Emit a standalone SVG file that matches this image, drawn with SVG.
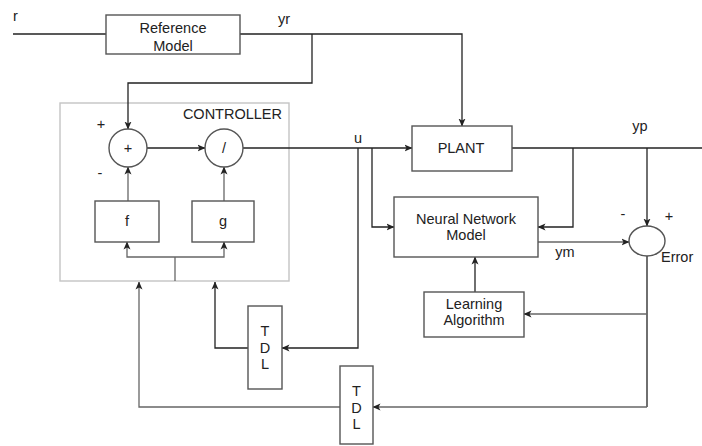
<svg xmlns="http://www.w3.org/2000/svg" width="702" height="446" viewBox="0 0 702 446">
<defs>
<marker id="arr" viewBox="0 0 8 8" refX="7.5" refY="4" markerWidth="8" markerHeight="8" markerUnits="userSpaceOnUse" orient="auto">
<path d="M0,0.5 L8,4 L0,7.5 L2,4 z" fill="#222"/>
</marker>
<style>
text{font-family:"Liberation Sans",Arial,sans-serif;font-size:14.5px;fill:#222}
.box{fill:#fff;stroke:#555;stroke-width:1.4}
.ctl{fill:none;stroke:#c4c4c4;stroke-width:1.4}
.c{text-anchor:middle}
.ln{fill:none;stroke:#222;stroke-width:1.3}
.gl{fill:none;stroke:#666;stroke-width:1.3}
.a{marker-end:url(#arr)}
</style>
</defs>
<rect width="702" height="446" fill="#fff"/>

<g id="controller">
<rect class="ctl" x="60" y="103" width="229" height="178"/>
<text x="282" y="119" text-anchor="end">CONTROLLER</text>
</g>

<g id="connectors">
<path class="ln" d="M13,34 H106"/>
<path class="ln a" d="M240,34 H462 V126"/>
<path class="ln a" d="M312,34 V83 H128 V129"/>
<path class="ln a" d="M147,148 H205"/>
<path class="ln a" d="M243,148 H412"/>
<path class="gl a" d="M128,201 V167"/>
<path class="gl a" d="M224,201 V167"/>
<path class="gl" d="M175,281 V257"/>
<path class="gl a" d="M175,257 H127 V242"/>
<path class="gl a" d="M175,257 H224 V242"/>
<path class="ln a" d="M358,148 V348 H282"/>
<path class="ln a" d="M372,148 V227 H394"/>
<path class="ln a" d="M248,348 H215 V282"/>
<path class="gl a" d="M340,407 H139 V282"/>
<path class="ln" d="M512,148 H702"/>
<path class="ln a" d="M573,148 V227 H538"/>
<path class="ln a" d="M647,148 V226"/>
<path class="gl a" d="M538,242 H629"/>
<path class="ln a" d="M475,292 V257"/>
<path class="ln" d="M647,256 V407"/>
<path class="gl a" d="M647,407 H373"/>
<path class="gl a" d="M647,314 H524"/>
</g>

<g id="reference-model">
<rect class="box" x="106" y="15" width="134" height="39"/>
<text class="c" x="173" y="33">Reference</text>
<text class="c" x="173" y="51">Model</text>
</g>

<g id="sum">
<circle class="box" cx="128" cy="148" r="19"/>
<text class="c" x="128" y="153">+</text>
</g>

<g id="div">
<circle class="box" cx="224" cy="148" r="19"/>
<text class="c" x="224" y="153">/</text>
</g>

<g id="f">
<rect class="box" x="95" y="201" width="64" height="41"/>
<text class="c" x="127" y="226">f</text>
</g>

<g id="g">
<rect class="box" x="192" y="201" width="62" height="41"/>
<text class="c" x="223" y="226">g</text>
</g>

<g id="plant">
<rect class="box" x="412" y="126" width="100" height="45"/>
<text class="c" x="461" y="153">PLANT</text>
</g>

<g id="nn-model">
<rect class="box" x="394" y="197" width="144" height="60"/>
<text class="c" x="466" y="224">Neural Network</text>
<text class="c" x="466" y="240">Model</text>
</g>

<g id="error">
<ellipse class="box" cx="647" cy="241" rx="18" ry="15"/>
<text x="661" y="262">Error</text>
</g>

<g id="learning">
<rect class="box" x="424" y="292" width="100" height="45"/>
<text class="c" x="474" y="309">Learning</text>
<text class="c" x="474" y="325">Algorithm</text>
</g>

<g id="tdl1">
<rect class="box" x="248" y="306" width="34" height="83"/>
<text class="c" x="265" y="336">T</text>
<text class="c" x="265" y="353">D</text>
<text class="c" x="265" y="369">L</text>
</g>

<g id="tdl2">
<rect class="box" x="340" y="366" width="33" height="78"/>
<text class="c" x="356.5" y="396">T</text>
<text class="c" x="356.5" y="413">D</text>
<text class="c" x="356.5" y="429">L</text>
</g>

<g id="labels">
<text x="13" y="21">r</text>
<text x="278" y="24">yr</text>
<text class="c" x="101" y="129">+</text>
<text class="c" x="100" y="178">-</text>
<text class="c" x="358" y="143">u</text>
<text class="c" x="640" y="131">yp</text>
<text class="c" x="565" y="257">ym</text>
<text class="c" x="623" y="219">-</text>
<text class="c" x="669" y="221">+</text>
</g>
</svg>
